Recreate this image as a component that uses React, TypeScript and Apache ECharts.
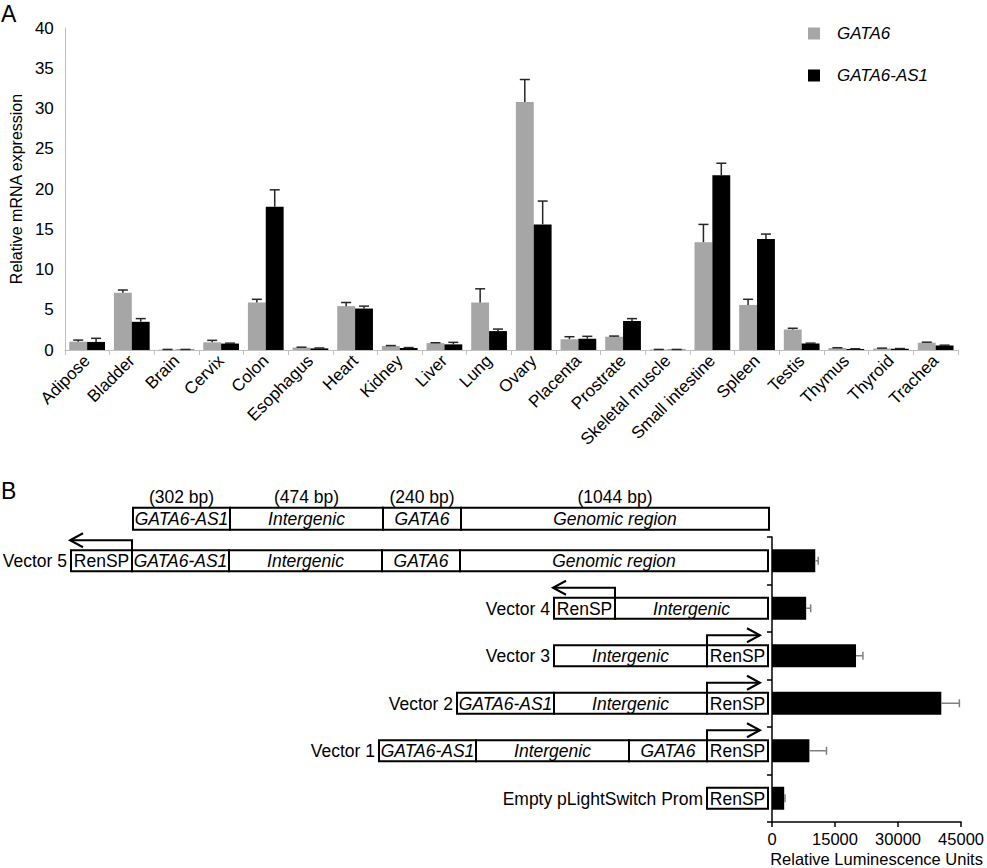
import React, { useEffect, useRef } from "react";
import * as echarts from "echarts";

const FONT = "'Liberation Sans', Arial, Helvetica, sans-serif";

// Panel A data
const tissues = [
  "Adipose", "Bladder", "Brain", "Cervix", "Colon", "Esophagus", "Heart", "Kidney", "Liver", "Lung",
  "Ovary", "Placenta", "Prostrate", "Skeletal muscle", "Small intestine", "Spleen", "Testis", "Thymus", "Thyroid", "Trachea",
];
const gata6 = [1.03, 7.1, 0.05, 0.95, 5.9, 0.3, 5.45, 0.5, 0.85, 5.9, 30.8, 1.35, 1.65, 0.05, 13.4, 5.6, 2.55, 0.25, 0.2, 0.9];
const gata6Err = [0.2, 0.35, 0.02, 0.25, 0.4, 0.05, 0.45, 0.05, 0.05, 1.7, 2.8, 0.3, 0.08, 0.02, 2.2, 0.7, 0.15, 0.03, 0.03, 0.07];
const as1 = [1.0, 3.5, 0.05, 0.8, 17.8, 0.2, 5.15, 0.25, 0.7, 2.35, 15.6, 1.4, 3.6, 0.05, 21.7, 13.8, 0.8, 0.12, 0.15, 0.55];
const as1Err = [0.45, 0.4, 0.02, 0.05, 2.1, 0.05, 0.3, 0.05, 0.25, 0.25, 2.9, 0.3, 0.3, 0.02, 1.5, 0.6, 0.05, 0.03, 0.03, 0.05];
const yTicksA = { min: 0, max: 40, interval: 5 };

// Panel B data
const vectors = ["Vector 5", "Vector 4", "Vector 3", "Vector 2", "Vector 1", "Empty pLightSwitch Prom"];
const luminescence = [10300, 8130, 20000, 40300, 8900, 2900];
const luminescenceErr = [700, 1070, 1640, 4300, 4070, 200];
const xTicksB = { min: 0, max: 45000, interval: 15000 };
const constructSegments = [
  ["RenSP", "GATA6-AS1", "Intergenic", "GATA6", "Genomic region"],
  ["RenSP", "Intergenic"],
  ["Intergenic", "RenSP"],
  ["GATA6-AS1", "Intergenic", "RenSP"],
  ["GATA6-AS1", "Intergenic", "GATA6", "RenSP"],
  ["RenSP"],
];
const headerSegments = ["GATA6-AS1", "Intergenic", "GATA6", "Genomic region"];
const headerBp = [302, 474, 240, 1044];

// layout (px) of schematic segment widths
const SEG_W: Record<string, number> = {
  RenSP: 61,
  "GATA6-AS1": 97,
  Intergenic: 153,
  GATA6: 78,
  "Genomic region": 308,
};
const DIAG_FS = 17.5;

function errorRender(side: number, color: string) {
  return (params: any, api: any) => {
    const i = api.value(0);
    const v = api.value(1);
    const e = api.value(2);
    const base = api.coord([i, v]);
    const top = api.coord([i, v + e]);
    const band = api.size([1, 0])[0];
    const x = base[0] + side * (band * 0.8) / 4;
    const style = { stroke: color, lineWidth: 1.5 };
    return {
      type: "group",
      children: [
        { type: "line", shape: { x1: x, y1: base[1], x2: x, y2: top[1] }, style },
        { type: "line", shape: { x1: x - 5, y1: top[1], x2: x + 5, y2: top[1] }, style },
      ],
    };
  };
}

function hErrorRender(color: string) {
  return (params: any, api: any) => {
    const i = api.value(1);
    const v = api.value(0);
    const e = api.value(2);
    const base = api.coord([v, i]);
    const end = api.coord([v + e, i]);
    const style = { stroke: color, lineWidth: 1.5 };
    return {
      type: "group",
      children: [
        { type: "line", shape: { x1: base[0], y1: base[1], x2: end[0], y2: base[1] }, style },
        { type: "line", shape: { x1: end[0], y1: base[1] - 4, x2: end[0], y2: base[1] + 4 }, style },
      ],
    };
  };
}

function textEl(text: string, x: number, y: number, align: string, opts: any = {}) {
  return {
    type: "text",
    x,
    y,
    silent: true,
    style: {
      text,
      fill: "#000",
      fontFamily: FONT,
      fontSize: opts.fontSize || DIAG_FS,
      fontStyle: opts.italic ? "italic" : "normal",
      align,
      verticalAlign: "middle",
      textAlign: align,
      textVerticalAlign: "middle",
    },
  };
}

function buildRow(segs: string[], right: number, cy: number, h: number) {
  const els: any[] = [];
  const total = segs.reduce((s, k) => s + SEG_W[k], 0);
  let x = right - total;
  const x0 = x;
  const top = cy - h / 2;
  const edges: number[] = [];
  segs.forEach((k) => {
    const w = SEG_W[k];
    edges.push(x);
    els.push({
      type: "rect",
      shape: { x, y: top, width: w, height: h },
      style: { fill: "#fff", stroke: "#000", lineWidth: 2 },
      silent: true,
    });
    els.push(textEl(k, x + w / 2, cy + 0.5, "center", { italic: k !== "RenSP" }));
    x += w;
  });
  return { els, x0, edges, top };
}

export default function App() {
  const ref = useRef<HTMLDivElement>(null);
  useEffect(() => {
    if (!ref.current) return;
    const chart = echarts.init(ref.current, undefined, { renderer: "svg" });
    const axisGray = "#bfbfbf";
    chart.setOption({
      animation: false,
      backgroundColor: "#fff",
      textStyle: { fontFamily: FONT },
      legend: {
        orient: "vertical",
        left: 803,
        top: 20,
        itemWidth: 12,
        itemHeight: 12,
        itemGap: 25,
        icon: "rect",
        data: ["GATA6", "GATA6-AS1"],
        textStyle: { fontFamily: FONT, fontSize: 17, fontStyle: "italic", color: "#000", padding: [0, 0, 0, 12] },
      },
      grid: [
        { left: 58, top: 28, width: 900, height: 322 },
        { left: 772, top: 537, width: 191, height: 286 },
      ],
      xAxis: [
        {
          gridIndex: 0,
          type: "category",
          data: tissues,
          axisLine: { lineStyle: { color: axisGray, width: 1 } },
          axisTick: { show: true, length: 5, lineStyle: { color: axisGray } },
          axisLabel: { rotate: 45, interval: 0, fontSize: 17, color: "#000", margin: 8, fontFamily: FONT },
        },
        {
          gridIndex: 1,
          type: "value",
          min: xTicksB.min,
          max: xTicksB.max,
          interval: xTicksB.interval,
          splitLine: { show: false },
          axisLine: { show: true, lineStyle: { color: "#000", width: 1.5 } },
          axisTick: { show: true, length: 5, lineStyle: { color: "#000", width: 1.5 } },
          axisLabel: { fontSize: 16.5, color: "#000", margin: 8, fontFamily: FONT, formatter: (v: number) => String(v) },
          name: "Relative Luminescence Units",
          nameLocation: "middle",
          nameGap: 28,
          nameTextStyle: { fontSize: 16.5, color: "#000", fontFamily: FONT, padding: [0, 0, 0, 20] },
        },
      ],
      yAxis: [
        {
          gridIndex: 0,
          type: "value",
          min: yTicksA.min,
          max: yTicksA.max,
          interval: yTicksA.interval,
          splitLine: { show: false },
          axisLine: { show: true, lineStyle: { color: axisGray } },
          axisTick: { show: false },
          axisLabel: { fontSize: 17, color: "#000", margin: 11, fontFamily: FONT },
          name: "Relative mRNA expression",
          nameLocation: "middle",
          nameGap: 40,
          nameTextStyle: { fontSize: 16, color: "#000", fontFamily: FONT },
        },
        {
          gridIndex: 1,
          type: "category",
          data: vectors,
          inverse: true,
          axisLine: { show: true, lineStyle: { color: "#000", width: 1.5 } },
          axisTick: { show: true, length: 5, lineStyle: { color: "#000", width: 1.5 } },
          axisLabel: { show: false },
        },
      ],
      series: [
        {
          name: "GATA6",
          type: "bar",
          xAxisIndex: 0,
          yAxisIndex: 0,
          data: gata6,
          barGap: "0%",
          barCategoryGap: "20%",
          itemStyle: { color: "#a6a6a6" },
        },
        {
          name: "GATA6-AS1",
          type: "bar",
          xAxisIndex: 0,
          yAxisIndex: 0,
          data: as1,
          barGap: "0%",
          barCategoryGap: "20%",
          itemStyle: { color: "#000" },
        },
        {
          name: "gErr",
          type: "custom",
          xAxisIndex: 0,
          yAxisIndex: 0,
          renderItem: errorRender(-1, "#262626"),
          data: tissues.map((_, i) => [i, gata6[i], gata6Err[i]]),
          encode: { x: 0, y: 1 },
          z: 5,
        },
        {
          name: "aErr",
          type: "custom",
          xAxisIndex: 0,
          yAxisIndex: 0,
          renderItem: errorRender(1, "#262626"),
          data: tissues.map((_, i) => [i, as1[i], as1Err[i]]),
          encode: { x: 0, y: 1 },
          z: 5,
        },
        {
          name: "Luminescence",
          type: "bar",
          xAxisIndex: 1,
          yAxisIndex: 1,
          data: luminescence,
          barWidth: 23,
          itemStyle: { color: "#000" },
        },
        {
          name: "lErr",
          type: "custom",
          xAxisIndex: 1,
          yAxisIndex: 1,
          renderItem: hErrorRender("#808080"),
          data: vectors.map((_, i) => [luminescence[i], i, luminescenceErr[i]]),
          encode: { x: 0, y: 1 },
          z: 5,
        },
      ],
    });

    // schematic aligned to the panel-B category axis
    const right = (chart.convertToPixel({ xAxisIndex: 1 } as any, 0) as number) - 4;
    const rowY = vectors.map((v) => chart.convertToPixel({ yAxisIndex: 1 } as any, v) as number);
    const h = 21;
    const graphics: any[] = [];
    graphics.push(textEl("A", 1, 14, "left", { fontSize: 23 }));
    graphics.push(textEl("B", 1, 491, "left", { fontSize: 23 }));

    // header row
    const headerCy = rowY[0] - 42;
    const hdr = buildRow(headerSegments, right + 1, headerCy, 22);
    graphics.push(...hdr.els);
    headerSegments.forEach((k, i) => {
      graphics.push(textEl(`(${headerBp[i]} bp)`, hdr.edges[i] + SEG_W[k] / 2, headerCy - 22, "center"));
    });

    constructSegments.forEach((segs, r) => {
      const cy = rowY[r];
      const row = buildRow(segs, right, cy, h);
      graphics.push(...row.els);
      graphics.push(textEl(vectors[r], row.x0 - 4, cy + 0.5, "right"));
      const ri = segs.indexOf("RenSP");
      if (segs.length > 1 && ri >= 0) {
        const dir = ri === 0 ? -1 : 1;
        const ax = ri === 0 ? row.edges[0] + SEG_W.RenSP : row.edges[ri];
        const len = ri === 0 ? 62 : 53;
        const ay = row.top - 10;
        const tip = ax + dir * len;
        graphics.push({
          type: "polyline",
          silent: true,
          shape: { points: [[ax, row.top], [ax, ay], [tip, ay]] },
          style: { stroke: "#000", lineWidth: 2, fill: null },
        });
        graphics.push({
          type: "polyline",
          silent: true,
          shape: { points: [[tip - dir * 13, ay - 7], [tip, ay], [tip - dir * 13, ay + 7]] },
          style: { stroke: "#000", lineWidth: 2, fill: null },
        });
      }
    });

    chart.setOption({ graphic: graphics });
    return () => chart.dispose();
  }, []);
  return (
    <div
      ref={ref}
      style={{ position: "fixed", left: 0, top: 0, width: 987, height: 868, background: "#fff" }}
    />
  );
}
